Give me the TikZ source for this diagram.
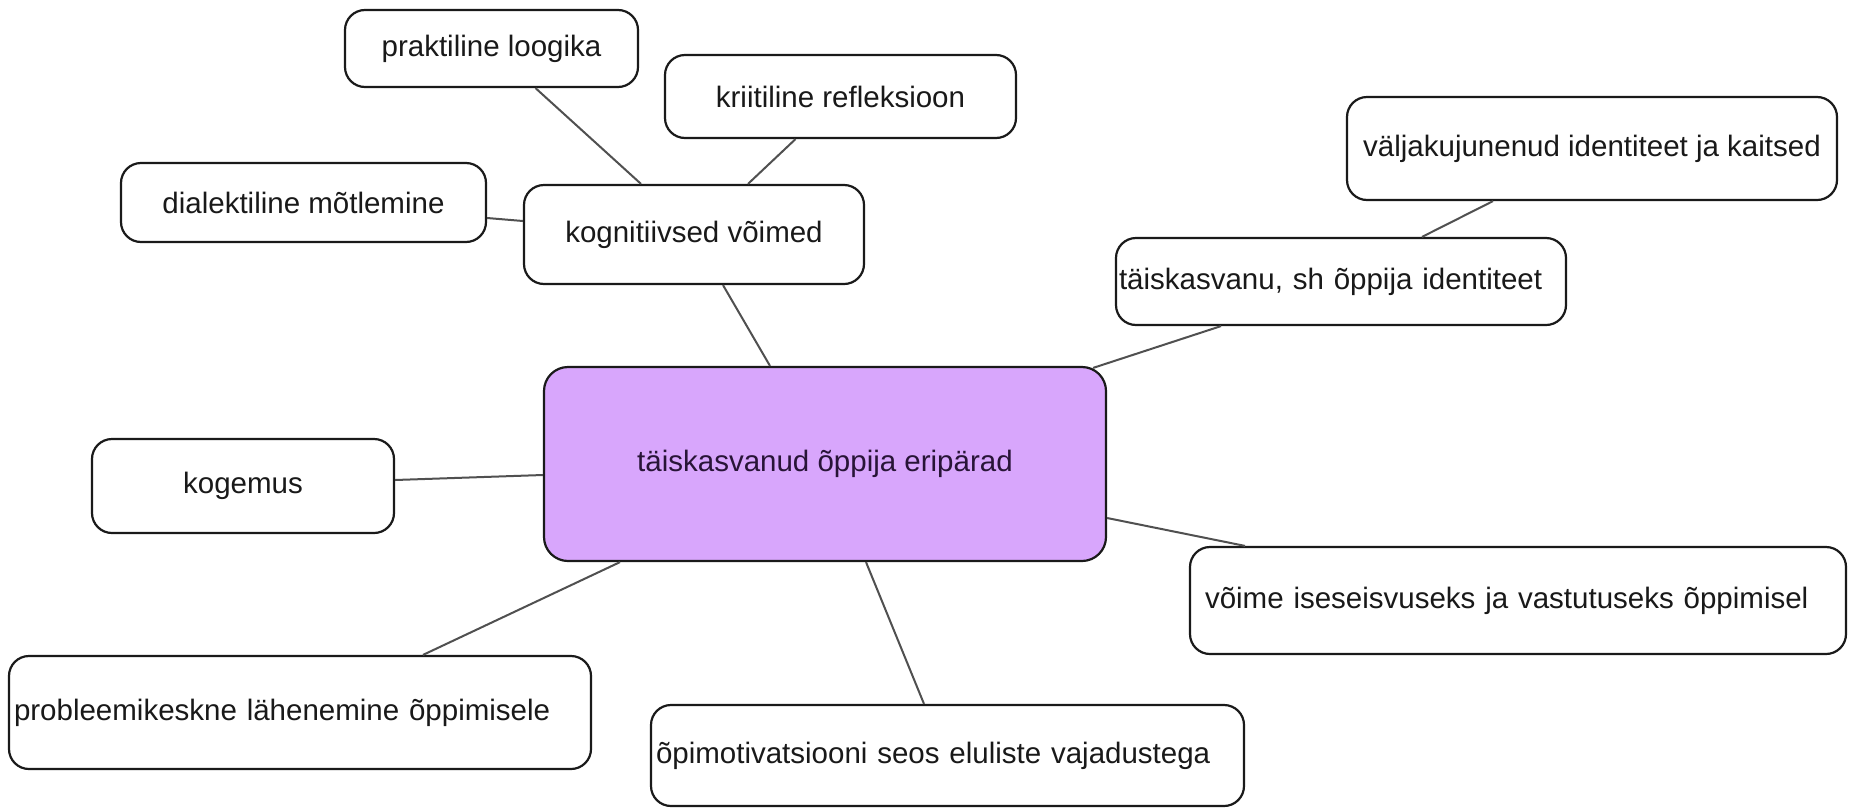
\documentclass[tikz,border=0pt]{standalone}
\usepackage{fontspec}
\setmainfont{Liberation Sans}
\definecolor{centfill}{RGB}{216,166,252}
\definecolor{edgecol}{RGB}{26,26,26}
\definecolor{linkcol}{RGB}{80,80,80}
\definecolor{txtcol}{RGB}{25,25,25}
\definecolor{centtxt}{RGB}{40,20,55}
\tikzset{
  mbox/.style={draw=edgecol, line width=2.2pt, rounded corners=20pt, fill=white,
    text=txtcol, inner xsep=0pt, inner ysep=0pt,
    font=\fontsize{29.5}{34}\selectfont},
  lbox/.style={mbox, align=left},
  link/.style={draw=linkcol, line width=2pt},
}
\begin{document}
\begin{tikzpicture}[x=1pt,y=-1pt]
\useasboundingbox[fill=white] (0,0) rectangle (1849,809);

\node[mbox, minimum width=293pt, minimum height=77pt] (prak) at (491.5,48.5) {praktiline loogika};
\node[mbox, minimum width=351pt, minimum height=83pt] (krit) at (840.5,96.5) {kriitiline refleksioon};
\node[mbox, minimum width=365pt, minimum height=79pt] (dial) at (303.5,202.5) {dialektiline mõtlemine};
\node[mbox, minimum width=340pt, minimum height=99pt] (kogn) at (694,234.5) {kognitiivsed võimed};
\node[mbox, minimum width=490pt, minimum height=103pt] (valj) at (1592,148.5) {väljakujunenud identiteet ja kaitsed};
\node[lbox, inner xsep=3pt, text width=444pt, minimum height=87pt] (tais) at (1341,281.5) {täiskasvanu, sh õppija identiteet};
\node[mbox, fill=centfill, text=centtxt, rounded corners=24pt, minimum width=562pt, minimum height=194pt] (cent) at (825,464) {täiskasvanud õppija eripärad};
\node[mbox, minimum width=302pt, minimum height=94pt] (koge) at (243,486) {kogemus};
\node[lbox, inner xsep=15pt, text width=626pt, minimum height=107pt] (voim) at (1518,600.5) {võime iseseisvuseks ja vastutuseks õppimisel};
\node[lbox, inner xsep=5pt, text width=572pt, minimum height=113pt] (prob) at (300,712.5) {probleemikeskne lähenemine õppimisele};
\node[lbox, inner xsep=5pt, text width=583pt, minimum height=101pt] (opim) at (947.5,755.5) {õpimotivatsiooni seos eluliste vajadustega};

\draw[link] ([xshift=44pt]prak.south) -- ([xshift=-53pt]kogn.north);
\draw[link] ([xshift=-45pt]krit.south) -- ([xshift=54pt]kogn.north);
\draw[link] ([yshift=-15.5pt]dial.east) -- ([yshift=13.5pt]kogn.west);
\draw[link] ([xshift=29pt]kogn.south) -- ([xshift=-55pt]cent.north);
\draw[link] ([xshift=-14pt,yshift=-2pt]cent.north east) -- ([xshift=-120pt]tais.south);
\draw[link] ([xshift=81pt]tais.north) -- ([xshift=-99pt]valj.south);
\draw[link] ([yshift=6pt]koge.east) -- ([yshift=-11pt]cent.west);
\draw[link] ([yshift=-54pt]cent.east) -- ([xshift=-273pt]voim.north);
\draw[link] ([xshift=-205pt]cent.south) -- ([xshift=123pt]prob.north);
\draw[link] ([xshift=41pt]cent.south) -- ([xshift=-23.5pt]opim.north);
\end{tikzpicture}
\end{document}
